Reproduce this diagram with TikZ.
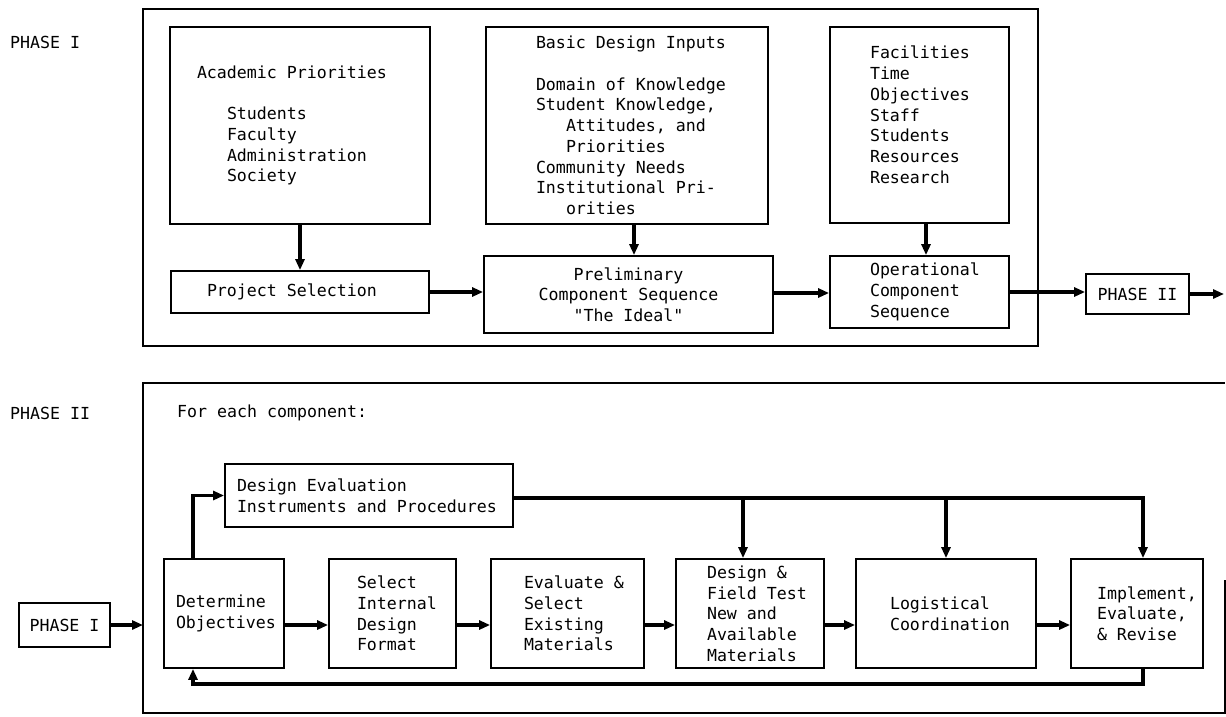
\documentclass[tikz,border=0pt]{standalone}
\usepackage{fontspec}
\setmonofont{DejaVu Sans Mono}
\usetikzlibrary{arrows.meta}
\newcommand{\diagfont}{\fontsize{16.6pt}{20.7pt}\selectfont\ttfamily}
\begin{document}
\begin{tikzpicture}[x=1pt,y=-1pt,
 txt/.style={font=\diagfont, inner sep=0pt,
   execute at begin node={\spaceskip=9.99pt\relax\xspaceskip=9.99pt\relax}},
 box/.style={txt, draw, line width=1.8pt, align=left},
 cbox/.style={box, align=center},
 arr/.style={line width=3.8pt, -{Triangle[length=11pt,width=9pt]}},
 outer/.style={line width=2.2pt}]
\useasboundingbox (0,0) rectangle (1226,716);

% labels
\node[txt, anchor=west] (lab1) at (10,42) {PHASE I};
\node[txt, anchor=west] (lab2) at (10,413) {PHASE II};
\node[txt, anchor=west] (fec) at (177,413) {For each component:};

% outer frames
\draw[outer] (143,9) rectangle (1038,346);
\draw[outer] (1225,580) -- (1225,713) -- (143,713) -- (143,383) -- (1225,383);
\coordinate (p2in) at (143,625);
\coordinate (p2out) at (1224,294);

% Phase I boxes
\node[box, text width=260pt, minimum height=197pt] (ap) at (300,125.5)
 {\hspace*{27pt}Academic Priorities\\ \mbox{}\\
  \hspace*{57pt}Students\\ \hspace*{57pt}Faculty\\ \hspace*{57pt}Administration\\ \hspace*{57pt}Society};
\node[box, text width=282pt, minimum height=197pt] (bdi) at (627,125.5)
 {\hspace*{50pt}Basic Design Inputs\\ \mbox{}\\
  \hspace*{50pt}Domain of Knowledge\\
  \hspace*{50pt}Student Knowledge,\\
  \hspace*{80pt}Attitudes, and\\
  \hspace*{80pt}Priorities\\
  \hspace*{50pt}Community Needs\\
  \hspace*{50pt}Institutional Pri-\\
  \hspace*{80pt}orities};
\node[box, text width=179pt, minimum height=196pt] (fac) at (919.5,125)
 {\hspace*{40pt}Facilities\\ \hspace*{40pt}Time\\ \hspace*{40pt}Objectives\\
  \hspace*{40pt}Staff\\ \hspace*{40pt}Students\\ \hspace*{40pt}Resources\\
  \hspace*{40pt}Research\\ \mbox{}};
\node[box, text width=258pt, minimum height=42pt] (ps) at (300,292)
 {\hspace*{36pt}Project Selection};
\node[cbox, text width=289pt, minimum height=77pt] (prelim) at (628.5,294.5)
 {Preliminary\\Component Sequence\\"The Ideal"};
\node[box, text width=179pt, minimum height=72pt] (ocs) at (919.5,292)
 {\hspace*{40pt}Operational\\ \hspace*{40pt}Component\\ \hspace*{40pt}Sequence};
\node[cbox, text width=103pt, minimum height=40pt] (ph2) at (1137.5,294) {PHASE II};

% Phase II boxes
\node[cbox, text width=91pt, minimum height=44pt] (ph1) at (64.5,625) {PHASE I};
\node[box, text width=288pt, minimum height=63pt] (de) at (369,495.5)
 {\hspace*{12pt}Design Evaluation\\ \hspace*{12pt}Instruments and Procedures};
\node[box, text width=120pt, minimum height=109pt] (do) at (224,613.5)
 {\hspace*{12pt}Determine\\ \hspace*{12pt}Objectives};
\node[box, text width=127pt, minimum height=109pt] (sidf) at (392.5,613.5)
 {\hspace*{28pt}Select\\ \hspace*{28pt}Internal\\ \hspace*{28pt}Design\\ \hspace*{28pt}Format};
\node[box, text width=153pt, minimum height=109pt] (es) at (567.5,613.5)
 {\hspace*{33pt}Evaluate \&\\ \hspace*{33pt}Select\\ \hspace*{33pt}Existing\\ \hspace*{33pt}Materials};
\node[box, text width=148pt, minimum height=109pt] (dft) at (750,613.5)
 {\hspace*{31pt}Design \&\\ \hspace*{31pt}Field Test\\ \hspace*{31pt}New and\\ \hspace*{31pt}Available\\ \hspace*{31pt}Materials};
\node[box, text width=180pt, minimum height=109pt] (log) at (946,613.5)
 {\hspace*{34pt}Logistical\\ \hspace*{34pt}Coordination};
\node[box, text width=132pt, minimum height=109pt] (imp) at (1137,613.5)
 {\hspace*{26pt}Implement,\\ \hspace*{26pt}Evaluate,\\ \hspace*{26pt}\& Revise};

% Phase I connectors
\draw[arr] (ap) -- (ps);
\draw[arr] ([xshift=7pt]bdi.south) -- ([xshift=7pt]bdi.south |- prelim.north);
\draw[arr] ([xshift=6.5pt]fac.south) -- ([xshift=6.5pt]fac.south |- ocs.north);
\draw[arr] (ps.east) -- (ps.east -| prelim.west);
\draw[arr] ([yshift=1.5pt]prelim.east) -- ([yshift=1.5pt]prelim.east -| ocs.west);
\draw[arr] (ocs.east) -- (ocs.east -| ph2.west);
\draw[arr] (ph2.east) -- (p2out);

% Phase II connectors
\draw[arr] (ph1.east) -- (p2in);
\draw[arr] (do.east |- p2in) -- (sidf.west |- p2in);
\draw[arr] (sidf.east |- p2in) -- (es.west |- p2in);
\draw[arr] (es.east |- p2in) -- (dft.west |- p2in);
\draw[arr] (dft.east |- p2in) -- (log.west |- p2in);
\draw[arr] (log.east |- p2in) -- (imp.west |- p2in);
\draw[arr] ([xshift=-31pt]do.north) |- (de.west);
\draw[arr] ([yshift=-2.5pt]de.east) -| ([xshift=6pt]imp.north);
\draw[arr] ([xshift=-7pt]dft.north |- de.east) ++(0,2.5) -- ([xshift=-7pt]dft.north);
\draw[arr] (log.north |- de.east) ++(0,2.5) -- (log.north);
\draw[arr] ([xshift=6pt]imp.south) -- ++(0,15) -| ([xshift=-31pt]do.south);
\end{tikzpicture}
\end{document}
